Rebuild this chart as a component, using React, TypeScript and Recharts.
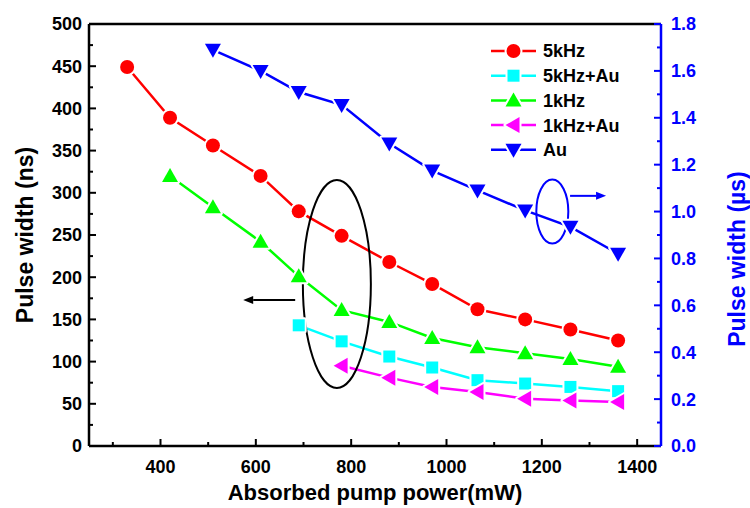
import { LineChart, Line, XAxis, YAxis, Legend, ReferenceDot, ReferenceLine } from "recharts"

// absorbed pump power (mW)
const power = [330, 420, 510, 610, 690, 780, 880, 970, 1065, 1165, 1260, 1360]

// pulse width (ns), left axis
const width5k = [449, 389, 356, 320, 278, 249, 218, 192, 162, 150, 138, 125]
const width5kAu = [null, null, null, null, 143, 124, 106, 93, 78, 74, 70, 65]
const width1k = [null, 320, 283, 242, 201, 161, 147, 128, 117, 110, 103, 94]
const width1kAu = [null, null, null, null, null, 95, 81, 70, 64, 56, 54, 52]

// pulse width (us), right axis
const widthAu = [null, null, 1.69, 1.6, 1.51, 1.455, 1.29, 1.175, 1.09, 1.005, 0.935, 0.82]

const xTicks = [300, 400, 500, 600, 700, 800, 900, 1000, 1100, 1200, 1300, 1400]
const leftTicks = [0, 25, 50, 75, 100, 125, 150, 175, 200, 225, 250, 275, 300, 325, 350, 375, 400, 425, 450, 475, 500]
const rightTicks = [0, 0.1, 0.2, 0.3, 0.4, 0.5, 0.6, 0.7, 0.8, 0.9, 1.0, 1.1, 1.2, 1.3, 1.4, 1.5, 1.6, 1.7, 1.8]

const series = [
  { key: "f5k", name: "5kHz", color: "#FF0000", shape: "circle", axis: "left", values: width5k },
  { key: "f5kAu", name: "5kHz+Au", color: "#00FFFF", shape: "square", axis: "left", values: width5kAu },
  { key: "f1k", name: "1kHz", color: "#00FF00", shape: "up", axis: "left", values: width1k },
  { key: "f1kAu", name: "1kHz+Au", color: "#FF00FF", shape: "left", axis: "left", values: width1kAu },
  { key: "au", name: "Au", color: "#0000FF", shape: "down", axis: "right", values: widthAu },
]

const rows = power.map((p, i) => {
  const row: Record<string, number | null> = { power: p }
  series.forEach((s) => (row[s.key] = s.values[i]))
  return row
})

const FONT = "'Liberation Sans', Arial, sans-serif"

function Marker({ shape, cx, cy, color }: any) {
  if (cx == null || cy == null) return <g />
  const st = { fill: color, stroke: "#fff", strokeWidth: 4, paintOrder: "stroke" as any, strokeLinejoin: "round" as any }
  switch (shape) {
    case "circle":
      return <circle cx={cx} cy={cy} r={7} {...st} />
    case "square":
      return <rect x={cx - 6} y={cy - 6} width={12} height={12} {...st} />
    case "up":
      return <path d={`M${cx},${cy - 8}L${cx + 8},${cy + 6}L${cx - 8},${cy + 6}Z`} {...st} />
    case "down":
      return <path d={`M${cx},${cy + 8}L${cx + 8},${cy - 6}L${cx - 8},${cy - 6}Z`} {...st} />
    default:
      return <path d={`M${cx - 8},${cy}L${cx + 6},${cy - 8}L${cx + 6},${cy + 8}Z`} {...st} />
  }
}

const XTick = ({ x, y, payload }: any) => {
  const major = payload.value % 200 === 0
  return (
    <g>
      <line x1={x} x2={x} y1={y} y2={y - (major ? 7 : 4)} stroke="#000" strokeWidth={2} />
      {major && (
        <text x={x} y={y + 27} textAnchor="middle" fontSize={18} fontWeight="bold" fontFamily={FONT} fill="#000">
          {payload.value}
        </text>
      )}
    </g>
  )
}

const LeftTick = ({ x, y, payload }: any) => {
  const major = payload.value % 50 === 0
  return (
    <g>
      <line x1={x} x2={x + (major ? 7 : 4)} y1={y} y2={y} stroke="#000" strokeWidth={2} />
      {major && (
        <text x={x - 7} y={y} dy="0.36em" textAnchor="end" fontSize={18} fontWeight="bold" fontFamily={FONT} fill="#000">
          {payload.value}
        </text>
      )}
    </g>
  )
}

const RightTick = ({ x, y, payload }: any) => {
  const major = Math.round(payload.value * 10) % 2 === 0
  return (
    <g>
      <line x1={x} x2={x - (major ? 7 : 4)} y1={y} y2={y} stroke="#0000FF" strokeWidth={2} />
      {major && (
        <text x={x + 10} y={y} dy="0.36em" textAnchor="start" fontSize={18} fontWeight="bold" fontFamily={FONT} fill="#0000FF">
          {payload.value.toFixed(1)}
        </text>
      )}
    </g>
  )
}

// legend keeps the series order, not the alphabetical one
const renderLegend = () => (
  <svg width={170} height={130} style={{ display: "block" }}>
    {series.map((s, i) => {
      const cy = 13 + i * 24.7
      return (
        <g key={s.key}>
          <line x1={3} x2={48} y1={cy} y2={cy} stroke={s.color} strokeWidth={2.5} />
          <Marker shape={s.shape} cx={25.5} cy={cy} color={s.color} />
          <text x={55} y={cy} dy="0.36em" fontSize={18} fontWeight="bold" fontFamily={FONT} fill="#000">
            {s.name}
          </text>
        </g>
      )
    })}
  </svg>
)

const Ellipse = ({ rx, ry, color }: any) => (props: any) =>
  <ellipse cx={props.cx} cy={props.cy} rx={rx} ry={ry} fill="none" stroke={color} strokeWidth={2} />

const Arrow = ({ len, dir, color }: any) => (props: any) => {
  const { cx, cy } = props
  const h = len / 2
  const tip = dir < 0 ? cx - h : cx + h
  const tail = dir < 0 ? cx + h : cx - h
  const back = tip - dir * 10
  return (
    <g>
      <line x1={tail} x2={back} y1={cy} y2={cy} stroke={color} strokeWidth={2} />
      <path d={`M${tip},${cy}L${back},${cy - 4}L${back},${cy + 4}Z`} fill={color} />
    </g>
  )
}

export default function App() {
  return (
    <div style={{ position: "absolute", left: 0, top: 0, background: "#fff" }}>
      <LineChart width={750} height={508} data={rows} margin={{ top: 24, right: 0, bottom: 0, left: 0 }} style={{ fontFamily: FONT }}>
        <XAxis
          dataKey="power"
          type="number"
          domain={[250, 1450]}
          ticks={xTicks}
          interval={0}
          height={62}
          tickSize={0}
          tickMargin={0}
          tickLine={false}
          tick={<XTick />}
          axisLine={{ stroke: "#000", strokeWidth: 2.5 }}
          label={{
            content: (p: any) => (
              <text x={p.viewBox.x + p.viewBox.width / 2} y={p.viewBox.y + 54} textAnchor="middle" fontSize={22} fontWeight="bold" fontFamily={FONT} fill="#000">
                Absorbed pump power(mW)
              </text>
            ),
          }}
        />
        <YAxis
          yAxisId="left"
          domain={[0, 500]}
          ticks={leftTicks}
          interval={0}
          width={89}
          tickSize={0}
          tickMargin={0}
          tickLine={false}
          tick={<LeftTick />}
          axisLine={{ stroke: "#000", strokeWidth: 2.5 }}
          label={{
            content: (p: any) => {
              const cy = p.viewBox.y + p.viewBox.height / 2
              return (
                <text x={25} y={cy} transform={`rotate(-90 25 ${cy})`} dy="0.36em" textAnchor="middle" fontSize={23} fontWeight="bold" fontFamily={FONT} fill="#000">
                  Pulse width (ns)
                </text>
              )
            },
          }}
        />
        <YAxis
          yAxisId="right"
          orientation="right"
          domain={[0, 1.8]}
          ticks={rightTicks}
          interval={0}
          width={89}
          tickSize={0}
          tickMargin={0}
          tickLine={false}
          tick={<RightTick />}
          axisLine={{ stroke: "#0000FF", strokeWidth: 2.5 }}
          label={{
            content: (p: any) => {
              const cx = p.viewBox.x + 76
              const cy = p.viewBox.y + p.viewBox.height / 2 + 24
              return (
                <text x={cx} y={cy} transform={`rotate(-90 ${cx} ${cy})`} dy="0.36em" textAnchor="middle" fontSize={23} fontWeight="bold" fontFamily={FONT} fill="#0000FF">
                  Pulse width (µs)
                </text>
              )
            },
          }}
        />
        <ReferenceLine yAxisId="left" y={500} stroke="#000" strokeWidth={2.5} />
        {series.map((s) => (
          <Line
            key={s.key}
            yAxisId={s.axis}
            dataKey={s.key}
            name={s.name}
            type="linear"
            stroke={s.color}
            strokeWidth={2.5}
            dot={(p: any) => <Marker key={`${s.key}-${p.index}`} shape={s.shape} cx={p.cx} cy={p.cy} color={s.color} />}
            activeDot={false}
            isAnimationActive={false}
          />
        ))}
        <ReferenceDot yAxisId="left" x={770} y={192} shape={Ellipse({ rx: 34, ry: 104, color: "#000" })} />
        <ReferenceDot yAxisId="left" x={628} y={173} shape={Arrow({ len: 52, dir: -1, color: "#000" })} />
        <ReferenceDot yAxisId="right" x={1222} y={1.0} shape={Ellipse({ rx: 16, ry: 32, color: "#0000FF" })} />
        <ReferenceDot yAxisId="right" x={1297} y={1.067} shape={Arrow({ len: 36, dir: 1, color: "#0000FF" })} />
        <Legend
          layout="vertical"
          align="center"
          verticalAlign="middle"
          content={renderLegend}
          wrapperStyle={{ position: "absolute", left: 488, top: 38, width: 170, height: 130 }}
        />
      </LineChart>
    </div>
  )
}
